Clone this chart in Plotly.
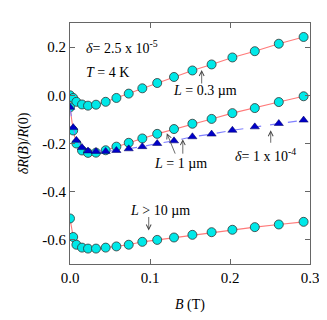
import plotly.graph_objects as go

# field values (T)
b_field = [0, 0.004, 0.008, 0.015, 0.0225, 0.0325, 0.0446, 0.058, 0.0734, 0.0904,
           0.109, 0.130, 0.153, 0.177, 0.203, 0.231, 0.261, 0.292]

# L = 0.3 um, delta = 2.5e-5
r_short = [0.0, -0.011, -0.027, -0.038, -0.043, -0.039, -0.027, -0.011, 0.007, 0.029,
           0.051, 0.076, 0.103, 0.128, 0.157, 0.183, 0.214, 0.242]
# L = 1 um, delta = 2.5e-5
r_mid = [-0.05, -0.146, -0.200, -0.229, -0.239, -0.238, -0.228, -0.213, -0.197, -0.179,
         -0.160, -0.140, -0.118, -0.098, -0.074, -0.053, -0.028, -0.004]
# L = 1 um, delta = 1e-4
r_mid_d = [-0.05, -0.134, -0.187, -0.217, -0.231, -0.233, -0.233, -0.229, -0.222, -0.213,
           -0.200, -0.189, -0.172, -0.161, -0.145, -0.131, -0.117, -0.103]
# L > 10 um
r_long = [-0.511, -0.588, -0.620, -0.632, -0.636, -0.636, -0.632, -0.627, -0.620, -0.608,
          -0.600, -0.590, -0.579, -0.568, -0.558, -0.547, -0.536, -0.525]

FONT = "Liberation Serif"
AXIS = "#666666"

fig = go.Figure()

circle = dict(symbol="circle", size=9, color="#00e8e8", line=dict(color="#333333", width=0.8))
red_line = dict(color="#ff7a7a", width=1.1)

fig.add_trace(go.Scatter(x=b_field, y=r_short, mode="lines+markers", line=red_line, marker=circle))
fig.add_trace(go.Scatter(x=b_field, y=r_mid, mode="lines+markers", line=red_line, marker=circle))
fig.add_trace(go.Scatter(x=b_field, y=r_mid_d, mode="lines+markers",
                         line=dict(color="#8080ff", width=1.1, dash="dash"),
                         marker=dict(symbol="triangle-up", size=8, color="#0000c8",
                                     line=dict(color="#000060", width=0.5))))
fig.add_trace(go.Scatter(x=b_field, y=r_long, mode="lines+markers", line=red_line, marker=circle))

# text labels
labels = [
    (0.018, 0.199, "<i>δ</i>= 2.5 x 10<sup>-5</sup>"),
    (0.018, 0.093, "<i>T</i> = 4 K"),
    (0.126, 0.022, "<i>L</i> = 0.3 µm"),
    (0.103, -0.282, "<i>L</i> = 1 µm"),
    (0.204, -0.247, "<i>δ</i>= 1 x 10<sup>-4</sup>"),
    (0.073, -0.477, "<i>L</i> > 10 µm"),
]
for x, y, t in labels:
    fig.add_annotation(x=x, y=y, text=t, showarrow=False, xanchor="left", yanchor="middle",
                       font=dict(family=FONT, size=14, color="black"))

# arrows: tip (x, y), tail offset (ax, ay) in px
arrows = [
    (0.1646, 0.105, 0, 15),
    (0.121, -0.157, 9, 22),
    (0.141, -0.182, 0, 16),
    (0.2509, -0.145, 0, 14),
    (0.0984, -0.561, 0, -15),
]
for x, y, ax, ay in arrows:
    fig.add_annotation(x=x, y=y, ax=ax, ay=ay, text="", showarrow=True, arrowhead=5,
                       arrowsize=1.2, arrowwidth=0.8, arrowcolor="#444444")

axis_style = dict(showline=True, linecolor=AXIS, linewidth=1, mirror="ticks", ticks="inside",
                  ticklen=5, tickcolor=AXIS, showgrid=False, zeroline=False,
                  tickfont=dict(family=FONT, size=15, color="black"))

fig.update_xaxes(range=[0, 0.3], dtick=0.1, tickformat=".1f",
                 title=dict(text="<i>B</i> (T)", font=dict(family=FONT, size=14, color="black"), standoff=14),
                 **axis_style)
fig.update_yaxes(range=[-0.7, 0.3], tickvals=[-0.6, -0.4, -0.2, 0.0, 0.2],
                 ticktext=["-0.6", "-0.4", "-0.2", "0.0", "0.2"],
                 title=dict(text="<i>δR</i>(<i>B</i>)/<i>R</i>(0)", font=dict(family=FONT, size=14, color="black"), standoff=10),
                 **axis_style)

fig.update_layout(width=327, height=320, margin=dict(l=62, r=25, t=15, b=64),
                  plot_bgcolor="white", paper_bgcolor="white", showlegend=False)

fig.write_html("out.html")
